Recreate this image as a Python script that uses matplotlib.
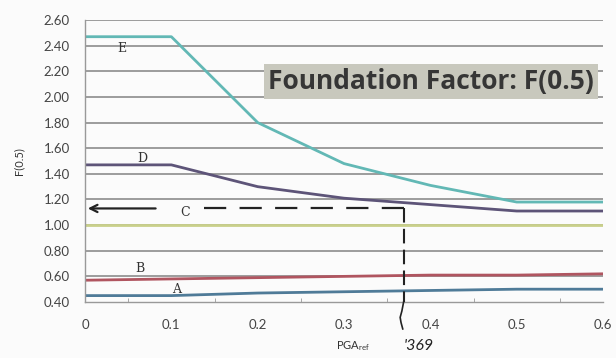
import numpy as np
import matplotlib.pyplot as plt
from matplotlib.ticker import MultipleLocator

# PGA_ref values and foundation factor per site class
pga = [0.0, 0.1, 0.2, 0.3, 0.4, 0.5, 0.6]
site_a = [0.45, 0.45, 0.47, 0.48, 0.49, 0.50, 0.50]
site_b = [0.57, 0.58, 0.59, 0.60, 0.61, 0.61, 0.62]
site_c = [1.00, 1.00, 1.00, 1.00, 1.00, 1.00, 1.00]
site_d = [1.47, 1.47, 1.30, 1.21, 1.16, 1.11, 1.11]
site_e = [2.47, 2.47, 1.80, 1.48, 1.31, 1.18, 1.18]

pga_read = 0.369
f_read = 1.13

yticks = [0.4, 0.6, 0.8, 1.0, 1.2, 1.4, 1.6, 1.8, 2.0, 2.2, 2.4, 2.6]
xticks = [0, 0.1, 0.2, 0.3, 0.4, 0.5, 0.6]
xticklabels = ["0", "0.1", "0.2", "0.3", "0.4", "0.5", "0.6"]

plt.rcParams['font.family'] = ['Lato', 'DejaVu Sans']

fig = plt.figure(figsize=(6.16, 3.58), dpi=100)
fig.patch.set_facecolor("#fbfbfb")
ax = fig.add_axes([0.138, 0.1564, 0.841, 0.7876])
ax.set_facecolor("#fbfbfb")

for y in yticks[1:]:
    ax.axhline(y, color="#8c8c8c", lw=1.2, zorder=1)

ax.plot(pga, site_c, color="#c9d08a", lw=2.0, zorder=2)
ax.plot(pga, site_b, color="#b05560", lw=2.0, zorder=2)
ax.plot(pga, site_a, color="#4f7b98", lw=2.0, zorder=2)
ax.plot(pga, site_d, color="#5d5478", lw=2.0, zorder=2)
ax.plot(pga, site_e, color="#62b8b5", lw=2.0, zorder=2)

# class labels
lbl = dict(fontsize=9, color="#333", ha="center", va="center",
           family="DejaVu Serif")
ax.text(0.043, 2.38, "E", **lbl)
ax.text(0.066, 1.52, "D", **lbl)
ax.text(0.116, 1.10, "C", **lbl)
ax.text(0.064, 0.66, "B", **lbl)
ax.text(0.106, 0.50, "A", **lbl)

# read-off lines for PGA = 0.369
ax.plot([pga_read, 0.13], [f_read, f_read], color="#222", lw=1.6,
        dashes=(10, 6), zorder=3)
ax.annotate("", xy=(0.0, f_read), xytext=(0.085, f_read),
            arrowprops=dict(arrowstyle="->", color="#222", lw=1.6,
                            mutation_scale=13), zorder=3)
ax.plot([pga_read, pga_read], [f_read, 0.40], color="#222", lw=1.5,
        dashes=(7, 3), zorder=3)
ax.plot([pga_read, 0.367, 0.365, 0.366, 0.368], [0.40, 0.33, 0.28, 0.24, 0.19],
        color="#222", lw=1.2, clip_on=False, zorder=3)
ax.text(0.369, 0.06, "'369", fontsize=11.5, color="#222", style="italic",
        ha="left", va="center", clip_on=False)

ax.text(0.401, 2.12, "Foundation Factor: F(0.5)", fontsize=19,
        fontweight="bold", color="#363636", ha="center", va="center",
        family="Open Sans",
        bbox=dict(boxstyle="square,pad=0.15", fc="#c8c8bd", ec="none"),
        zorder=5)

ax.set_xlim(0, 0.6)
ax.set_ylim(0.4, 2.6)
ax.set_yticks(yticks)
ax.set_yticklabels([f"{v:.2f}" for v in yticks])
ax.set_xticks(xticks)
ax.set_xticklabels(xticklabels)
ax.xaxis.set_minor_locator(MultipleLocator(0.05))
ax.tick_params(axis="both", which="both", length=0, colors="#444",
               labelsize=9.5)
ax.tick_params(axis="x", which="minor", direction="in", length=3,
               color="#999")
ax.tick_params(axis="x", pad=12)
ax.tick_params(axis="y", pad=11)

for side in ["top", "right"]:
    ax.spines[side].set_visible(False)
for side in ["left", "bottom"]:
    ax.spines[side].set_color("#999")
    ax.spines[side].set_linewidth(1.0)

ax.set_ylabel("F(0.5)", fontsize=8, color="#333", labelpad=14)
ax.text(0.31, 0.055, "PGA$_{\\mathregular{ref}}$", fontsize=8, color="#333",
        ha="center", va="center", clip_on=False)

fig.savefig("out.png", dpi=100, facecolor=fig.get_facecolor())
